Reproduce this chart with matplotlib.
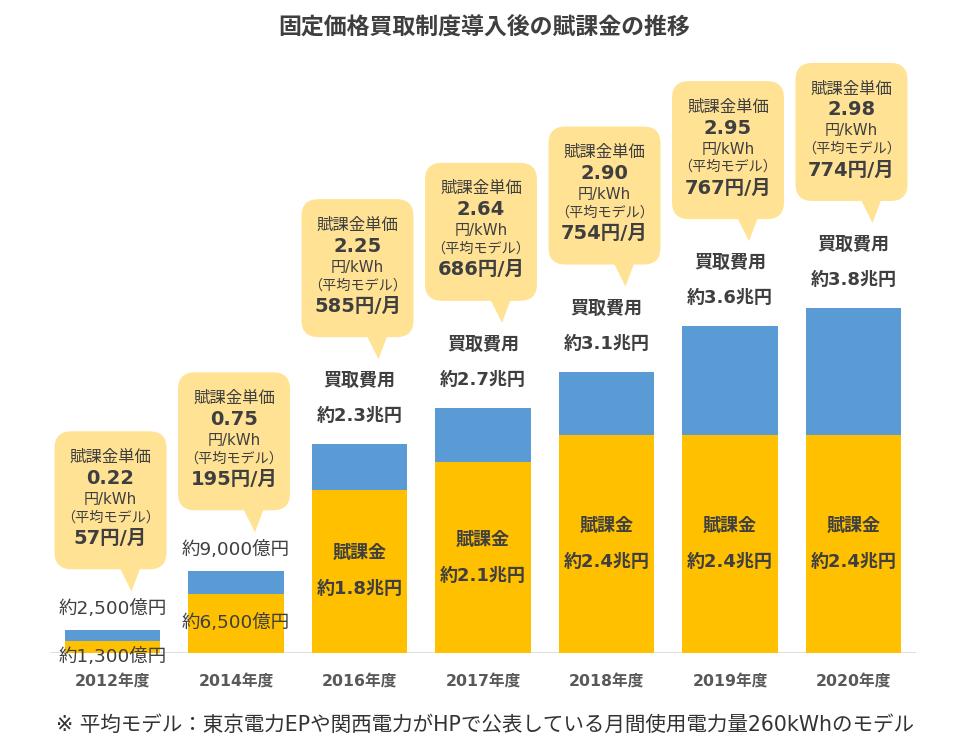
import matplotlib
matplotlib.use("Agg")
import matplotlib.pyplot as plt
from matplotlib.patches import FancyBboxPatch, Polygon
from matplotlib.transforms import IdentityTransform

plt.rcParams['font.family'] = ['DejaVu Sans', 'Noto Sans CJK JP']

# ---- data ----
years = ["2012年度", "2014年度", "2016年度", "2017年度", "2018年度", "2019年度", "2020年度"]
purchase_cost = [0.25, 0.90, 2.3, 2.7, 3.1, 3.6, 3.8]   # 買取費用 (兆円)
levy = [0.13, 0.65, 1.8, 2.1, 2.4, 2.4, 2.4]             # 賦課金 (兆円)
unit_price = [0.22, 0.75, 2.25, 2.64, 2.90, 2.95, 2.98]  # 円/kWh
monthly = [57, 195, 585, 686, 754, 767, 774]             # 円/月

title = "固定価格買取制度導入後の賦課金の推移"
note = "※ 平均モデル：東京電力EPや関西電力がHPで公表している月間使用電力量260kWhのモデル"

YELLOW = "#FFC000"
BLUE = "#5B9BD5"
BUBBLE = "#FFE294"
TXT = "#3F3F3F"

W, H = 973, 750
fig = plt.figure(figsize=(W / 100, H / 100), dpi=100)
fig.patch.set_facecolor("white")
base_px = 653
ax = fig.add_axes([0, (H - base_px) / H, 1, base_px / H])
ax.set_xlim(-112.5 / 123.5, (W - 112.5) / 123.5)
ax.set_ylim(0, base_px / 90.8)
ax.axis("off")

x = list(range(len(years)))
top_part = [t - l for t, l in zip(purchase_cost, levy)]
ax.bar(x, levy, width=0.77, color=YELLOW, zorder=2)
ax.bar(x, top_part, bottom=levy, width=0.77, color=BLUE, zorder=2)
ax.plot([-0.5, 6.5], [0, 0], color="#D9D9D9", lw=1.2, zorder=1)

PT = 0.72  # points per pixel


def fmt_amount(v):
    if v < 1:
        return f"約{int(round(v * 10000)):,}億円"
    return f"約{v:.1f}兆円"


def lab(i, yv, dy_px, s, **kw):
    kw.setdefault("color", TXT)
    ax.annotate(s, xy=(i, yv), xytext=(0, dy_px * PT), textcoords="offset points",
                ha="center", va="center", zorder=5, **kw)


fig.canvas.draw()
for i in x:
    # category labels
    lab(i, 0, -29, years[i], fontsize=11.3, fontweight="bold", color="#595959")
    tot, lv = purchase_cost[i], levy[i]
    if tot < 1:
        lab(i, tot, 21, fmt_amount(tot), fontsize=13.3)
        if i == 0:
            lab(i, 0, -4, fmt_amount(lv), fontsize=13.3)
        else:
            lab(i, lv / 2, 0, fmt_amount(lv), fontsize=13.3)
        tip_h = 39
    else:
        lab(i, tot, 63, "買取費用", fontsize=13, fontweight="bold")
        lab(i, tot, 28, fmt_amount(tot), fontsize=13, fontweight="bold")
        lab(i, lv / 2, 18, "賦課金", fontsize=13, fontweight="bold")
        lab(i, lv / 2, -18, fmt_amount(lv), fontsize=13, fontweight="bold")
        tip_h = 85

    # speech bubble in display pixels
    bx, by = ax.transData.transform((i, tot))
    tip_y = by + tip_h
    bot = tip_y + 22
    bh = 138
    bw = 112
    cx = bx - 2
    tipx = cx + 20
    box = FancyBboxPatch((cx - bw / 2, bot), bw, bh,
                         boxstyle="round,pad=0,rounding_size=17",
                         transform=IdentityTransform(), facecolor=BUBBLE,
                         edgecolor="none", zorder=3)
    fig.add_artist(box)
    tri = Polygon([(tipx - 11, bot + 2), (tipx + 10, bot + 2), (tipx + 1, tip_y)],
                  closed=True, transform=IdentityTransform(), facecolor=BUBBLE,
                  edgecolor="none", zorder=3)
    fig.add_artist(tri)
    btop = bot + bh
    lines = [("賦課金単価", 11.8, "normal", 26),
             (f"{unit_price[i]:.2f}", 14, "bold", 47),
             ("円/kWh", 10.8, "normal", 68),
             ("（平均モデル）", 10.2, "normal", 86),
             (f"{monthly[i]}円/月", 14, "bold", 107)]
    for s, fs, fw, off in lines:
        fig.text(cx / W, (btop - off) / H, s, ha="center", va="center",
                 fontsize=fs, fontweight=fw, color=TXT, zorder=6)

fig.text(484 / W, 1 - 27 / H, title, ha="center", va="center", fontsize=16.5,
         fontweight="bold", color=TXT)
fig.text(485 / W, 1 - 725 / H, note, ha="center", va="center", fontsize=14.8,
         color="#333333")

fig.savefig("out.png", dpi=100, facecolor="white")
